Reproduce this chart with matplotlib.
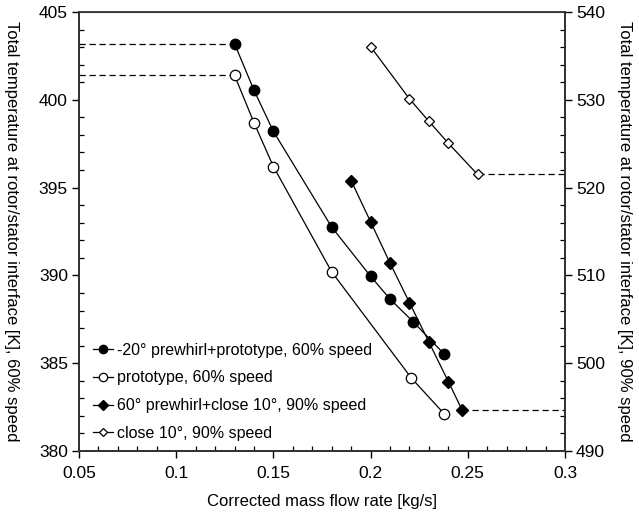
import numpy as np
import matplotlib
matplotlib.use("Agg")
import matplotlib.pyplot as plt
from matplotlib.ticker import MultipleLocator

plt.rcParams['font.family'] = ['Liberation Sans', 'DejaVu Sans']

# 60% speed (left axis)
flow_pw_proto = [0.13, 0.14, 0.15, 0.18, 0.20, 0.21, 0.222, 0.238]
temp_pw_proto = [403.2, 400.55, 398.2, 392.75, 389.95, 388.65, 387.35, 385.5]
flow_proto = [0.13, 0.14, 0.15, 0.18, 0.221, 0.238]
temp_proto = [401.4, 398.7, 396.2, 390.2, 384.15, 382.1]

# 90% speed (right axis)
flow_pw_close = [0.19, 0.20, 0.21, 0.22, 0.23, 0.24, 0.247]
temp_pw_close = [520.8, 516.1, 511.4, 506.9, 502.4, 497.9, 494.7]
flow_close = [0.20, 0.22, 0.23, 0.24, 0.255]
temp_close = [536.05, 530.1, 527.55, 525.05, 521.5]

labels = ["-20° prewhirl+prototype, 60% speed",
          "prototype, 60% speed",
          "60° prewhirl+close 10°, 90% speed",
          "close 10°, 90% speed"]

xlim = (0.05, 0.3)
ylim_left = (380, 405)
ylim_right = (490, 540)

fig = plt.figure(figsize=(6.39, 5.15), dpi=100)
ax = fig.add_axes([0.1236, 0.1243, 0.7606, 0.8524])
ax2 = ax.twinx()

lw = 0.9
l1, = ax.plot(flow_pw_proto, temp_pw_proto, '-o', color='black', lw=lw,
              ms=7.5, mfc='black', mec='black', label=labels[0])
l2, = ax.plot(flow_proto, temp_proto, '-o', color='black', lw=lw,
              ms=7.5, mfc='white', mec='black', mew=0.9, label=labels[1])
l3, = ax2.plot(flow_pw_close, temp_pw_close, '-D', color='black', lw=lw,
               ms=6, mfc='black', mec='black', label=labels[2])
l4, = ax2.plot(flow_close, temp_close, '-D', color='black', lw=lw,
               ms=5, mfc='white', mec='black', mew=0.9, label=labels[3])

# dashed guides to the axes
dash = dict(color='black', lw=0.9, ls=(0, (5, 3)), zorder=1)
ax.plot([xlim[0], flow_pw_proto[0]], [temp_pw_proto[0]] * 2, **dash)
ax.plot([xlim[0], flow_proto[0]], [temp_proto[0]] * 2, **dash)
ax2.plot([flow_close[-1], xlim[1]], [temp_close[-1]] * 2, **dash)
ax2.plot([flow_pw_close[-1], xlim[1]], [temp_pw_close[-1]] * 2, **dash)

ax.set_xlim(*xlim)
ax.set_ylim(*ylim_left)
ax2.set_ylim(*ylim_right)

ax.xaxis.set_major_locator(MultipleLocator(0.05))
ax.xaxis.set_minor_locator(MultipleLocator(0.01))
ax.yaxis.set_major_locator(MultipleLocator(5))
ax.yaxis.set_minor_locator(MultipleLocator(1))
ax2.yaxis.set_major_locator(MultipleLocator(10))
ax2.yaxis.set_minor_locator(MultipleLocator(2))
ax.set_xticks([0.05, 0.1, 0.15, 0.2, 0.25, 0.3])
ax.set_xticklabels(["0.05", "0.1", "0.15", "0.2", "0.25", "0.3"])

for a in (ax, ax2):
    a.tick_params(which='major', direction='out', length=5, width=1, labelsize=12.5, pad=3)
    a.tick_params(which='minor', direction='in', length=3.5, width=0.9)
    for s in a.spines.values():
        s.set_linewidth(1.3)
        s.set_color('#333333')
ax.tick_params(axis='x', which='major', pad=6)
ax.tick_params(axis='x', which='both', top=False)
ax.spines['top'].set_linewidth(0.8)
ax.spines['top'].set_color('#555555')

ax.set_xlabel("Corrected mass flow rate [kg/s]", fontsize=12, labelpad=9)
ax.set_ylabel("Total temperature at rotor/stator interface [K], 60% speed",
              fontsize=12, rotation=270, va='center', ha='center')
ax.yaxis.set_label_coords(-0.138, 0.5)
ax2.set_ylabel("Total temperature at rotor/stator interface [K], 90% speed",
               fontsize=12, rotation=270, va='center', ha='center')
ax2.yaxis.set_label_coords(1.1215, 0.5)

ax.legend(handles=[l1, l2, l3, l4], loc='lower left', bbox_to_anchor=(0.0, -0.01),
          frameon=False, fontsize=11.5, handlelength=1.25, handletextpad=0.25,
          labelspacing=0.8, markerscale=0.8)

fig.savefig("out.png", dpi=100)
